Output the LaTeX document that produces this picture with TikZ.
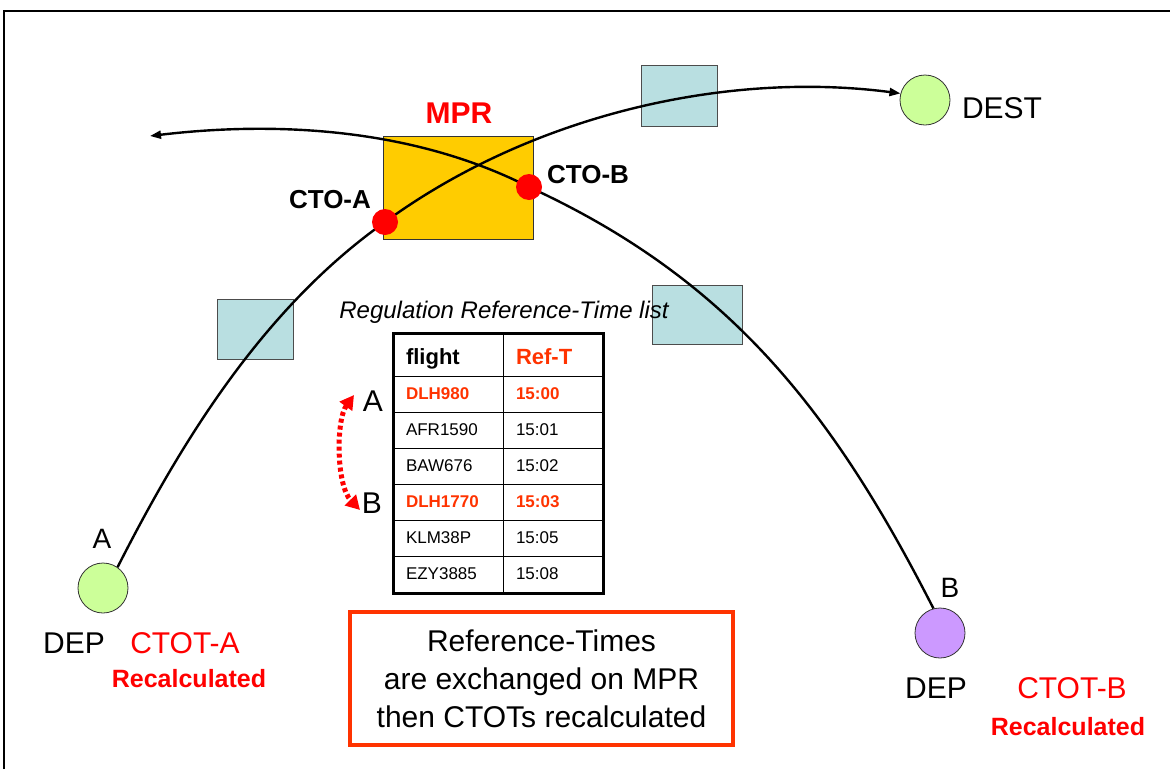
\documentclass[tikz,border=0pt]{standalone}
\usepackage{fontspec}
\setmainfont{Liberation Sans}
\usetikzlibrary{arrows.meta}
\definecolor{mprfill}{HTML}{FFCC00}
\definecolor{sector}{RGB}{185,223,225}
\definecolor{depgreen}{HTML}{CCFF99}
\definecolor{deplav}{HTML}{CC99FF}
\definecolor{redorange}{HTML}{FF3300}
\definecolor{pured}{HTML}{FF0000}
\begin{document}
\begin{tikzpicture}[x=1pt,y=-1pt,
  fs/.style={font=\fontsize{#1}{#1}\selectfont},
  fsb/.style={font=\fontsize{#1}{#1}\selectfont\bfseries},
  txt/.style={inner sep=0pt, outer sep=0pt},
  sectorbox/.style={draw=black!70, fill=sector, line width=0.8pt, inner sep=0pt},
  airport/.style={circle, draw=black!80, line width=0.8pt, minimum size=50pt, inner sep=0pt},
  ctodot/.style={circle, fill=pured, minimum size=26pt, inner sep=0pt},
  flight/.style={line width=2.4pt, black, -{Triangle[length=11pt,width=8pt]}},
  swap/.style={pured, line width=5pt, dash pattern=on 4pt off 3pt,
    {Triangle[length=14pt,width=15pt]}-{Triangle[length=14pt,width=15pt]}},
  tabred/.style={txt, anchor=base west, fsb=17, text=redorange},
  tabblk/.style={txt, anchor=base west, fs=17},
]
\useasboundingbox (0,0) rectangle (1170,769);
% frame
\draw[line width=2pt] (4,769) -- (4,11) -- (1170,11);

% regulated area and sectors
\node[draw=black!80, fill=mprfill, line width=0.8pt, minimum width=150pt, minimum height=103pt, inner sep=0pt] (mpr) at (458,187.5) {};
\node[sectorbox, minimum width=76pt, minimum height=60pt] (secA) at (255,329) {};
\node[sectorbox, minimum width=76pt, minimum height=61pt] (secTop) at (679,95.5) {};
\node[sectorbox, minimum width=90pt, minimum height=59pt] (secB) at (697,314.5) {};

% airports
\node[airport, fill=depgreen] (depA) at (103,588) {};
\node[airport, fill=depgreen] (dest) at (925,100) {};
\node[airport, fill=deplav] (depB) at (940,633) {};

% CTO points
\coordinate (ctoA) at (385,222);
\coordinate (ctoB) at (529,187);
\coordinate (bEnd) at (150,136);

% flight A
\draw[flight] (depA.55) .. controls +(66,-130) and +(-120,85) .. (ctoA)
  .. controls +(145,-106) and +(-176,-23) .. (dest.165);
% flight B
\draw[flight] (depB.105) .. controls +(-101,-198) and +(200,92) .. (ctoB)
  .. controls +(-116,-59) and +(126,-15) .. (bEnd);

\node[ctodot] (dotA) at (ctoA) {};
\node[ctodot] (dotB) at (ctoB) {};

% labels
\node[txt, anchor=base, fsb=30, text=pured] (mprlbl) at (459,123) {MPR};
\node[txt, anchor=base, fsb=26] (ctoAlbl) at (330,208) {CTO-A};
\node[txt, anchor=base, fsb=26] (ctoBlbl) at (588,183) {CTO-B};
\node[txt, anchor=base west, fs=30] (destlbl) at (962,118) {DEST};

\node[txt, anchor=base, fs=28] (Alab) at (102,548) {A};
\node[txt, anchor=base, fs=30] (depAlbl) at (74,653) {DEP};
\node[txt, anchor=base, fs=30, text=pured] (ctotA) at (185,653) {CTOT-A};
\node[txt, anchor=base, fsb=25, text=pured] (recA) at (189,687) {Recalculated};

\node[txt, anchor=base, fs=28] (Blab) at (950,597) {B};
\node[txt, anchor=base, fs=30] (depBlbl) at (936,698) {DEP};
\node[txt, anchor=base, fs=30, text=pured] (ctotB) at (1072,698) {CTOT-B};
\node[txt, anchor=base, fsb=25, text=pured] (recB) at (1068,735) {Recalculated};

% table
\node[txt, anchor=base, fs=24] (title) at (504,318) {\itshape Regulation Reference-Time list};
\draw[line width=1pt] (503,333) -- (503,593);
\foreach \yy in {376,412,448,484,520,556} {\draw[line width=1pt] (393,\yy) -- (603,\yy);}
\node[draw, line width=3pt, minimum width=210pt, minimum height=260pt, inner sep=0pt] (tbl) at (498,463) {};

\node[txt, anchor=base west, fsb=22] (h1) at (406,364) {flight};
\node[txt, anchor=base west, fsb=22, text=redorange] (h2) at (516,364) {Ref-T};
\node[tabred] (r1a) at (406,399) {DLH980};   \node[tabred] (r1b) at (516,399) {15:00};
\node[tabblk] (r2a) at (406,435) {AFR1590};  \node[tabblk] (r2b) at (516,435) {15:01};
\node[tabblk] (r3a) at (406,471) {BAW676};   \node[tabblk] (r3b) at (516,471) {15:02};
\node[tabred] (r4a) at (406,507) {DLH1770};  \node[tabred] (r4b) at (516,507) {15:03};
\node[tabblk] (r5a) at (406,543) {KLM38P};   \node[tabblk] (r5b) at (516,543) {15:05};
\node[tabblk] (r6a) at (406,579) {EZY3885};  \node[tabblk] (r6b) at (516,579) {15:08};

% swap arrow
\node[txt, anchor=base, fs=30] (tA) at (373,411) {A};
\node[txt, anchor=base, fs=30] (tB) at (372,513) {B};
\coordinate (swTop) at (354,395);
\coordinate (swBot) at (360,510);
\draw[swap] (swTop) .. controls (336,420) and (336,485) .. (swBot);

% note box
\node[draw=redorange, line width=4pt, minimum width=383pt, minimum height=133pt, inner sep=0pt,
  align=center, font=\fontsize{30}{38}\selectfont] (note) at (541.5,678.5)
  {Reference-Times\\are exchanged on MPR\\then CTOTs recalculated};
\end{tikzpicture}
\end{document}
